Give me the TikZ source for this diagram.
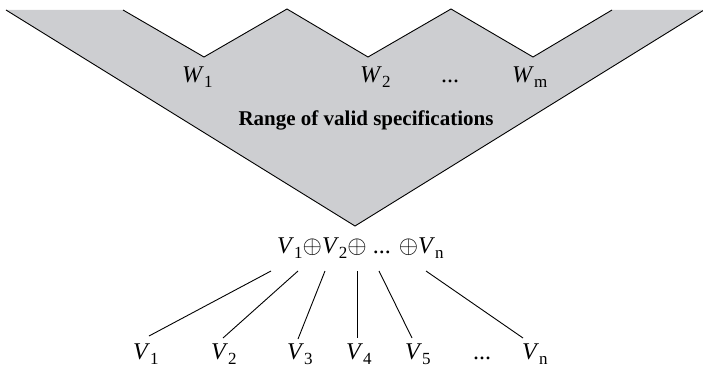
\documentclass[tikz,border=0pt]{standalone}
\usepackage{fontspec}
\setmainfont{Liberation Serif}
\definecolor{specgray}{RGB}{205,206,209}
\newcommand{\ivar}[2]{\textit{#1}\raisebox{-5.5pt}{\fontsize{17}{17}\selectfont #2}}
\tikzset{
  lab/.style={inner sep=0pt, anchor=base west, font=\fontsize{24}{28}\selectfont},
  edge/.style={line width=0.9pt, black},
  title/.style={inner sep=0pt, anchor=base, font=\fontsize{21}{25}\selectfont\bfseries}
}
\begin{document}
\begin{tikzpicture}[x=1pt,y=-1pt]
\useasboundingbox (0,0) rectangle (703,369);
% gray band
\coordinate (oL) at (6,10);
\coordinate (apex) at (355,226);
\coordinate (oR) at (704,10);
\coordinate (iR) at (612,10);
\coordinate (vm) at (533,57);
\coordinate (p2) at (451,9);
\coordinate (vw2) at (368,57);
\coordinate (p1) at (287,9);
\coordinate (vw1) at (204,57);
\coordinate (iL) at (123,10);
\fill[specgray] (oL) -- (apex) -- (oR) -- (iR) -- (vm) -- (p2) -- (vw2) -- (p1) -- (vw1) -- (iL) -- cycle;
\draw[edge] (oL) -- (apex) -- (oR);
\draw[edge] (iR) -- (vm) -- (p2) -- (vw2) -- (p1) -- (vw1) -- (iL);
% W labels
\node[lab] (w1) at (182,82) {\ivar{W}{1}};
\node[lab] (w2) at (360,82) {\ivar{W}{2}};
\node[lab] (wd) at (441,82) {...};
\node[lab] (wm) at (512,82) {\ivar{W}{m}};
\node[title] (range) at (366,125) {Range of valid specifications};
% sum
\node[lab] (sum) at (277,253) {\ivar{V}{1}$\oplus$\ivar{V}{2}$\oplus$ ... $\oplus$\ivar{V}{n}};
% bottom labels
\node[lab] (l1) at (133,359) {\ivar{V}{1}};
\node[lab] (l2) at (211,359) {\ivar{V}{2}};
\node[lab] (l3) at (287,359) {\ivar{V}{3}};
\node[lab] (l4) at (346,359) {\ivar{V}{4}};
\node[lab] (l5) at (405,359) {\ivar{V}{5}};
\node[lab] (ld) at (473,359) {...};
\node[lab] (ln) at (522,359) {\ivar{V}{n}};
% connector ends
\coordinate (t1) at (271,271); \coordinate (b1) at (149,336);
\coordinate (t2) at (298,271); \coordinate (b2) at (223,338);
\coordinate (t3) at (325,271); \coordinate (b3) at (298,339);
\coordinate (t4) at (357,271); \coordinate (b4) at (357,338);
\coordinate (t5) at (379,271); \coordinate (b5) at (412,338);
\coordinate (t6) at (426,271); \coordinate (b6) at (523,338);
\foreach \i in {1,...,6} \draw[edge] (t\i) -- (b\i);
\end{tikzpicture}
\end{document}
